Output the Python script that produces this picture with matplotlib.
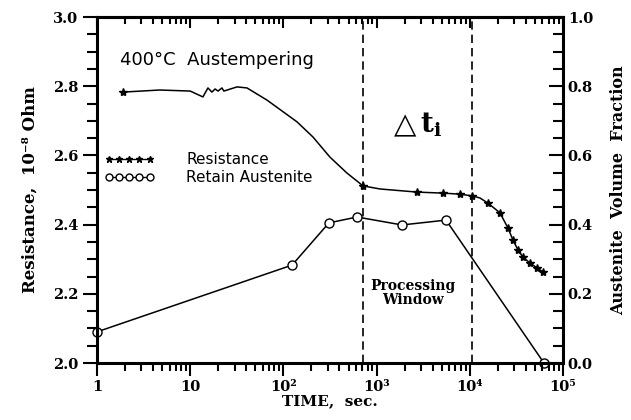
import matplotlib
matplotlib.use("Agg")
import matplotlib.pyplot as plt
from matplotlib.lines import Line2D
from matplotlib.ticker import MultipleLocator, FixedLocator, FixedFormatter, LogLocator, NullFormatter

plt.rcParams["mathtext.fontset"] = "dejavuserif"

# resistance curve (left axis)
res_t = [1.9, 4.7, 10, 13.7, 15.5, 17.1, 18.5, 19.9, 21.9, 23.0, 31.8, 40.7, 66.6,
         140, 208, 316, 481, 715, 1087, 2710, 5150, 7850, 10560, 12860, 15670,
         21080, 25700, 29100, 32900, 37200, 44300, 52600, 61000]
res_val = [2.783, 2.789, 2.786, 2.769, 2.795, 2.783, 2.792, 2.786, 2.795, 2.786, 2.798,
           2.795, 2.760, 2.697, 2.653, 2.595, 2.549, 2.512, 2.503, 2.494, 2.491, 2.488,
           2.483, 2.477, 2.462, 2.434, 2.390, 2.355, 2.327, 2.306, 2.289, 2.275, 2.263]
res_marks = [0, 17, 19, 20, 21, 22, 24, 25, 26, 27, 28, 29, 30, 31, 32]

# retained austenite (right axis)
aus_t = [1, 124, 308, 617, 1875, 5560, 62500]
aus_f = [0.09, 0.283, 0.405, 0.422, 0.399, 0.413, 0.0]

# processing window limits
window = [720, 10600]

xticks = [1, 10, 100, 1000, 10000, 100000]
xlabels = ["1", "10", "10²", "10³", "10⁴", "10⁵"]

serif = {"family": "DejaVu Serif", "weight": "bold"}

fig = plt.figure(figsize=(6.31, 4.20), dpi=100)
ax = fig.add_axes([0.1537, 0.1357, 0.7385, 0.8238])
ax2 = ax.twinx()

ax.plot(res_t, res_val, color="black", lw=1.1, marker="*", ms=6,
        markevery=res_marks)
ax2.plot(aus_t, aus_f, color="black", lw=1.1, marker="o", ms=6.5,
         mfc="white", mew=1.0, clip_on=False)

for w in window:
    ax.axvline(w, color="black", lw=1.2, ls=(0, (5, 3)))

ax.set_xscale("log")
ax.set_xlim(1, 1e5)
ax.set_ylim(2.0, 3.0)
ax2.set_ylim(0.0, 1.0)

ax.xaxis.set_major_locator(FixedLocator(xticks))
ax.xaxis.set_major_formatter(FixedFormatter(xlabels))
ax.xaxis.set_minor_locator(LogLocator(base=10, subs=range(2, 10)))
ax.xaxis.set_minor_formatter(NullFormatter())
ax.yaxis.set_major_locator(MultipleLocator(0.2))
ax.yaxis.set_minor_locator(MultipleLocator(0.05))
ax2.yaxis.set_major_locator(MultipleLocator(0.2))
ax2.yaxis.set_minor_locator(MultipleLocator(0.05))

ax.tick_params(axis="x", which="both", direction="out", top=False, width=1.5)
ax.tick_params(axis="x", which="major", length=9)
ax.tick_params(axis="x", which="minor", length=6)
ax.tick_params(axis="y", which="both", direction="out", width=1.5)
ax.tick_params(axis="y", which="major", length=10)
ax.tick_params(axis="y", which="minor", length=7)
ax2.tick_params(axis="y", which="both", direction="in", width=1.5)
ax2.tick_params(axis="y", which="major", length=10)
ax2.tick_params(axis="y", which="minor", length=7)

top = ax.secondary_xaxis("top")
top.xaxis.set_major_locator(FixedLocator(xticks))
top.xaxis.set_minor_locator(LogLocator(base=10, subs=range(2, 10)))
top.xaxis.set_major_formatter(NullFormatter())
top.xaxis.set_minor_formatter(NullFormatter())
top.tick_params(which="both", direction="in", width=1.5)
top.tick_params(which="major", length=8)
top.tick_params(which="minor", length=5)
top.spines["top"].set_linewidth(2.2)

for lab in ax.get_xticklabels() + ax.get_yticklabels() + ax2.get_yticklabels():
    lab.set_fontfamily("DejaVu Serif")
    lab.set_fontweight("bold")
    lab.set_fontsize(10.5)
ax.yaxis.set_major_formatter(plt.FuncFormatter(lambda v, p: f"{v:.1f}"))
ax2.yaxis.set_major_formatter(plt.FuncFormatter(lambda v, p: f"{v:.1f}"))

for sp in ax2.spines.values():
    sp.set_linewidth(2.2)

ax.set_xlabel("TIME,  sec.", fontdict=serif, fontsize=11, labelpad=0)
ax.set_ylabel("Resistance,  10⁻⁸ Ohm", fontdict=serif, fontsize=12, labelpad=10)
ax2.set_ylabel("Austenite  Volume  Fraction", fontdict=serif, fontsize=11.5,
               labelpad=12, rotation=90)

ax.text(1.75, 2.876, "400°C  Austempering", fontsize=13, family="DejaVu Sans",
        va="center", ha="left")
ax.text(2017, 2.688, "△", fontsize=21, family="DejaVu Sans", va="center", ha="center")
ax.text(2950, 2.688, r"$\mathbf{t_i}$", fontsize=20, va="center", ha="left")
ax.text(2460, 2.202, "Processing\nWindow", fontdict=serif, fontsize=10,
        ha="center", va="center", linespacing=1.0)

handles = [Line2D([], [], color="black", lw=1.0, marker="*", ms=5),
           Line2D([], [], color="black", lw=1.0, marker="o", ms=5, mfc="white", mew=1.0)]
ax.legend(handles, ["Resistance", "Retain Austenite"], loc="center left",
          bbox_to_anchor=(0.015, 0.561), frameon=False, numpoints=5,
          handlelength=3.3, handletextpad=2.1, labelspacing=0.2, fontsize=11,
          borderaxespad=0, borderpad=0)
ax2.set_zorder(1)
ax.set_zorder(2)
ax.patch.set_visible(False)

fig.savefig("out.png", dpi=100)
